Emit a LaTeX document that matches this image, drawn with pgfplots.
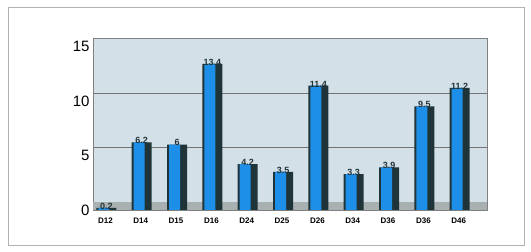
\documentclass[border=0pt]{standalone}
\usepackage{pgfplots}
\pgfplotsset{compat=1.18}
\usepackage{fontspec}
\setmainfont{Liberation Sans}
\definecolor{barblue}{HTML}{1E8FE8}
\definecolor{bardark}{HTML}{1F3438}
\definecolor{wall}{HTML}{D3E0E8}
\definecolor{floorc}{HTML}{A8B0B2}
\begin{document}
\begin{tikzpicture}[x=1pt,y=1pt]
\useasboundingbox (0,0) rectangle (531,252);
\draw[gray!60, line width=0.8pt] (8,7) rectangle (524,245);
\begin{axis}[
  at={(93pt,42pt)}, anchor=south west,
  scale only axis, width=394pt, height=171.5pt,
  xmin=-0.35, xmax=10.8, ymin=0, ymax=15.73,
  xtick={0,...,10},
  xticklabels={D12,D14,D15,D16,D24,D25,D26,D34,D36,D36,D46},
  ytick={0,5,10,15},
  ymajorgrids, grid style={black!55, line width=0.7pt, yshift=8pt},
  axis line style={black!50, line width=0.8pt},
  major tick length=0pt,
  axis background/.style={fill=wall},
  xticklabel style={font=\bfseries\fontsize{8}{9}\selectfont, yshift=-4pt},
  yticklabel style={font=\fontsize{15}{16}\selectfont},
  /pgf/number format/assume math mode=true,
  ybar, 
]
\fill[floorc] (axis cs:-0.35,0) rectangle (axis cs:10.8,0.72);
\addplot[draw=none, fill=bardark, bar width=20pt, bar shift=1pt,
  nodes near coords,
  nodes near coords style={font=\bfseries\fontsize{9}{9}\selectfont, text=bardark, yshift=-5pt}]
  coordinates {(0,0.2) (1,6.2) (2,6) (3,13.4) (4,4.2) (5,3.5) (6,11.4) (7,3.3) (8,3.9) (9,9.5) (10,11.2)};
\addplot[draw=none, fill=barblue, bar width=11pt, bar shift=-1.5pt]
  coordinates {(0,0.2) (1,6.2) (2,6) (3,13.4) (4,4.2) (5,3.5) (6,11.4) (7,3.3) (8,3.9) (9,9.5) (10,11.2)};
\end{axis}
\end{tikzpicture}
\end{document}
